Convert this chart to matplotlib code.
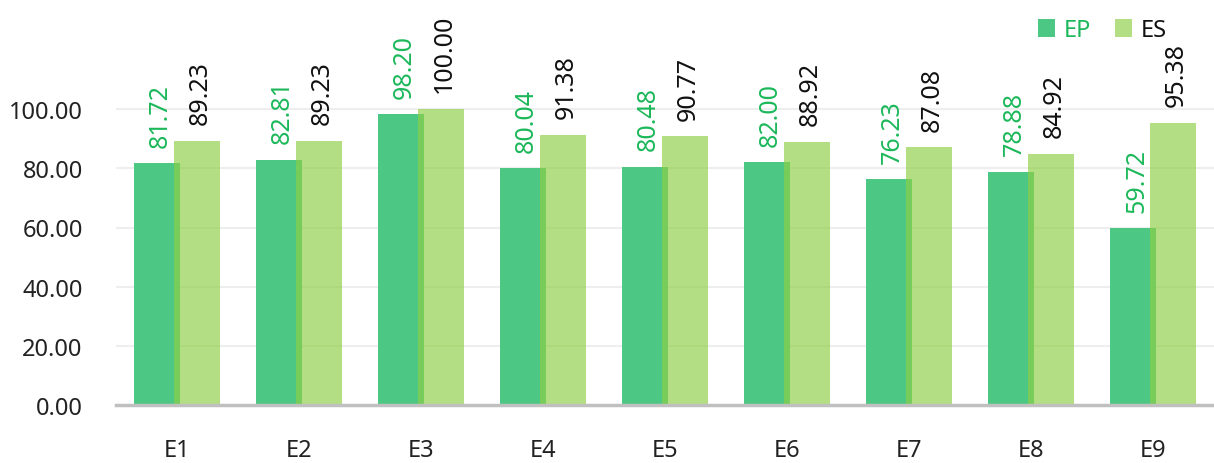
import matplotlib
matplotlib.use("Agg")
import matplotlib.pyplot as plt
import numpy as np

categories = ["E1", "E2", "E3", "E4", "E5", "E6", "E7", "E8", "E9"]
ep_values = [81.72, 82.81, 98.20, 80.04, 80.48, 82.00, 76.23, 78.88, 59.72]
es_values = [89.23, 89.23, 100.00, 91.38, 90.77, 88.92, 87.08, 84.92, 95.38]
y_ticks = [0, 20, 40, 60, 80, 100]

plt.rcParams['font.family'] = ['Noto Sans', 'DejaVu Sans']

W, H = 1214, 464
fig = plt.figure(figsize=(W / 100, H / 100), dpi=100)
ax = fig.add_axes([116 / W, (H - 406) / H, (W - 116) / W, 355 / H])

x = np.arange(len(categories))
width = 0.377
off = 0.164
ep_color = "#4DC784"
es_color = "#8ECF46"

ax.bar(x - off, ep_values, width, color=ep_color, label="EP", zorder=2)
ax.bar(x + off, es_values, width, color=es_color, alpha=0.67, label="ES", zorder=3)

for xi, v in zip(x, ep_values):
    ax.annotate(f"{v:.2f}", (xi - off + 0.03, v), xytext=(0, 12), textcoords="offset points",
                rotation=90, ha="center", va="bottom", color="#1CB85A", fontsize=18)
for xi, v in zip(x, es_values):
    ax.annotate(f"{v:.2f}", (xi + off + 0.03, v), xytext=(0, 12), textcoords="offset points",
                rotation=90, ha="center", va="bottom", color="#111111", fontsize=18)

ax.set_xlim(-0.5, len(categories) - 0.5)
ax.set_ylim(0, 120)
ax.set_yticks(y_ticks)
ax.set_yticklabels([f"{t:.2f}" for t in y_ticks])
ax.set_xticks(x)
ax.set_xticklabels(categories)
ax.tick_params(axis="both", length=0, labelsize=17, colors="#222222")
ax.tick_params(axis="y", pad=24)
ax.tick_params(axis="x", pad=24)
for t in y_ticks[1:]:
    ax.axhline(t, color="#EEEEEE", lw=1.5, zorder=1)
for s in ["top", "right", "left"]:
    ax.spines[s].set_visible(False)
ax.spines["bottom"].set_color("#C0C0C0")
ax.spines["bottom"].set_linewidth(2.5)
ax.spines["bottom"].set_zorder(4)

leg = fig.legend(loc="upper right", bbox_to_anchor=(1188 / W, 1 + 2 / H), ncol=2, frameon=False,
                 fontsize=17, handlelength=0.75, handleheight=0.75, handletextpad=0.35,
                 columnspacing=1.0, labelcolor=["#1CB85A", "#111111"])

fig.savefig("out.png", dpi=100)
